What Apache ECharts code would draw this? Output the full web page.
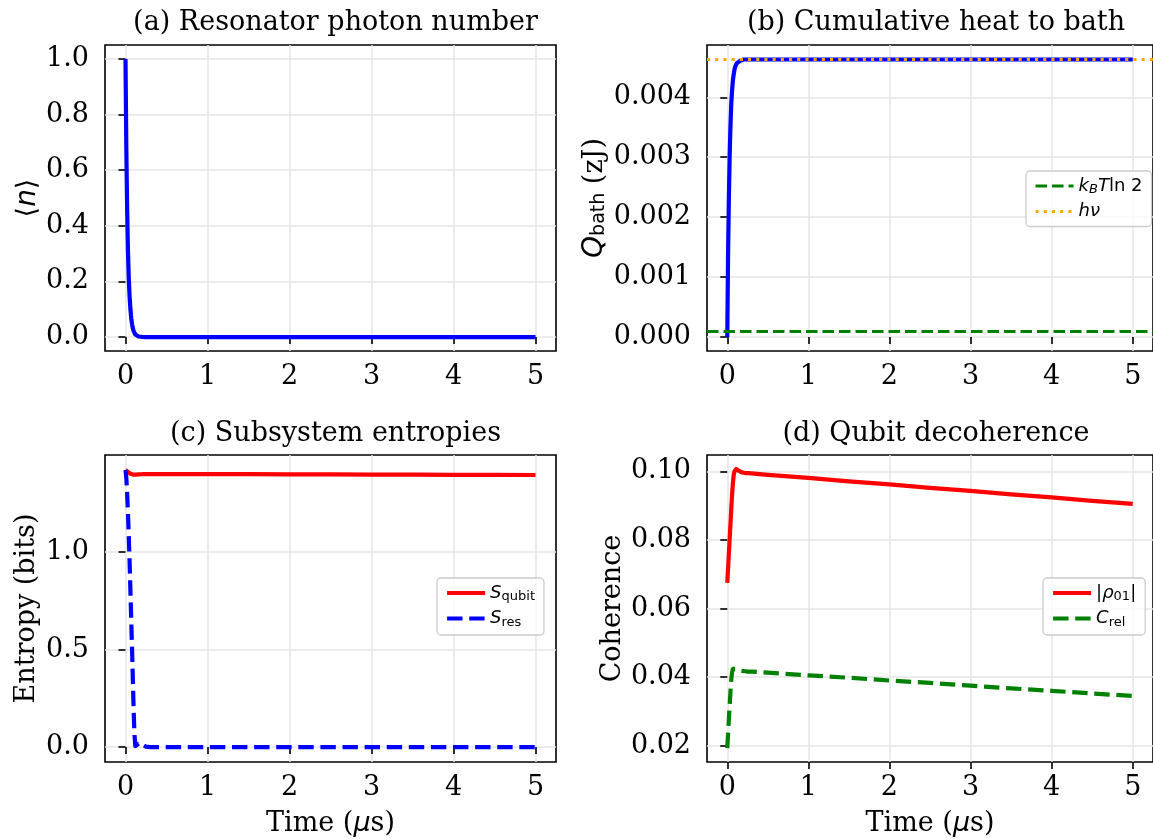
<!DOCTYPE html>
<html><head><meta charset="utf-8">
<script src="https://cdn.jsdelivr.net/npm/echarts@6/dist/echarts.min.js"></script>
<style>html,body{margin:0;padding:0;background:#fff}#c{width:1153px;height:839px}</style>
</head><body><div id="c"></div>
<script>
// ---- data ----
const times   = [0, 0.01, 0.02, 0.03, 0.04, 0.05, 0.06, 0.07, 0.08, 0.09, 0.10, 0.11, 0.12, 0.14, 0.16, 0.18, 0.20, 0.22, 0.25, 0.30, 0.5, 1, 1.5, 2, 2.5, 3, 3.5, 4, 4.5, 5];
const photonN = [1.0, 0.68, 0.46, 0.31, 0.21, 0.145, 0.10, 0.068, 0.046, 0.031, 0.021, 0.014, 0.0095, 0.0045, 0.002, 0.001, 0.0005, 0.0002, 0.0001, 0, 0, 0, 0, 0, 0, 0, 0, 0, 0, 0];
const qBath   = [0, 0.00140, 0.00235, 0.00305, 0.00355, 0.00391, 0.00413, 0.00429, 0.00439, 0.00447, 0.00452, 0.00455, 0.00457, 0.00460, 0.00461, 0.00462, 0.00463, 0.00463, 0.00463, 0.00463, 0.00463, 0.00463, 0.00463, 0.00463, 0.00463, 0.00463, 0.00463, 0.00463, 0.00463, 0.00463];
const kTln2   = 0.0000957;
const hNu     = 0.004638;
const sQubit  = [1.420, 1.418, 1.414, 1.409, 1.405, 1.402, 1.400, 1.398, 1.397, 1.396, 1.396, 1.396, 1.396, 1.397, 1.397, 1.398, 1.398, 1.398, 1.398, 1.398, 1.398, 1.398, 1.398, 1.397, 1.397, 1.396, 1.396, 1.395, 1.395, 1.394];
const sRes    = [1.420, 1.38, 1.30, 1.20, 1.08, 0.95, 0.80, 0.65, 0.50, 0.34, 0.18, 0.06, 0.005, 0.004, 0.018, 0.028, 0.022, 0.010, 0.002, 0, 0, 0, 0, 0, 0, 0, 0, 0, 0, 0];
const rho01   = [0.0675, 0.0718, 0.0762, 0.0806, 0.0850, 0.0893, 0.0935, 0.0968, 0.0990, 0.1001, 0.1006, 0.1007, 0.1006, 0.1002, 0.0999, 0.0997, 0.0996, 0.0995, 0.0995, 0.0994, 0.0990, 0.0981, 0.0971, 0.0962, 0.0952, 0.0943, 0.0933, 0.0924, 0.0914, 0.0905];
const cRel    = [0.0193, 0.0235, 0.0278, 0.0320, 0.0360, 0.0395, 0.0415, 0.0424, 0.0427, 0.0426, 0.0424, 0.0422, 0.0420, 0.0419, 0.0418, 0.0418, 0.0417, 0.0417, 0.0416, 0.0416, 0.0413, 0.0405, 0.0398, 0.0390, 0.0383, 0.0375, 0.0367, 0.0360, 0.0352, 0.0345];
const xTicks  = [0, 1, 2, 3, 4, 5];
const yTicksA = [0, 0.2, 0.4, 0.6, 0.8, 1.0];
const yTicksB = [0, 0.001, 0.002, 0.003, 0.004];
const yTicksC = [0, 0.5, 1.0];
const yTicksD = [0.02, 0.04, 0.06, 0.08, 0.10];
const titles  = ['(a) Resonator photon number', '(b) Cumulative heat to bath', '(c) Subsystem entropies', '(d) Qubit decoherence'];

// ---- chart ----
const SERIF = 'DejaVu Serif', SANS = 'DejaVu Sans';
const FS = 27;
const pairs = arr => times.map((t, i) => [t, arr[i]]);
const grids = [
  {left: 105, top: 45, width: 451, height: 306},
  {left: 707, top: 45, width: 448, height: 306},
  {left: 105, top: 455, width: 451, height: 307},
  {left: 707, top: 455, width: 448, height: 307}
].map(g => Object.assign(g, {show: true, borderColor: '#000', borderWidth: 1.6, backgroundColor: '#fff', containLabel: false}));

const axisCommon = {
  axisLine: {show: false},
  axisTick: {show: true, length: 7, lineStyle: {color: '#000', width: 1.6}},
  axisLabel: {color: '#000', fontFamily: SERIF, fontSize: FS},
  splitLine: {show: true, lineStyle: {color: '#e6e6e6', width: 1.5}}
};
function xAx(i, withName) {
  const a = JSON.parse(JSON.stringify(axisCommon));
  a.axisTick.customValues = xTicks;
  a.axisLabel.customValues = xTicks;
  a.axisLabel.margin = 12;
  return Object.assign(a, {
    type: 'value', gridIndex: i, min: -0.25, max: 5.25,
    name: withName ? 'Time ({i|μ}s)' : '', nameLocation: 'middle', nameGap: 48,
    nameTextStyle: {color: '#000', fontFamily: SERIF, fontSize: FS,
      rich: {i: {fontFamily: SANS, fontStyle: 'italic', fontSize: FS, color: '#000'}}}
  });
}
function yAx(i, min, max, ticks, dec, name, gap, baseFont) {
  const a = JSON.parse(JSON.stringify(axisCommon));
  a.axisTick.customValues = ticks;
  a.axisLabel.customValues = ticks;
  a.axisLabel.margin = 16;
  a.axisLabel.formatter = v => Number(v).toFixed(dec);
  return Object.assign(a, {
    type: 'value', gridIndex: i, min: min, max: max,
    name: name, nameLocation: 'middle', nameRotate: 90, nameGap: gap,
    nameTextStyle: {color: '#000', fontFamily: baseFont, fontSize: FS,
      rich: {
        i: {fontFamily: SANS, fontStyle: 'italic', fontSize: 28, color: '#000'},
        sub: {fontFamily: SANS, fontSize: 19, color: '#000', verticalAlign: 'bottom', lineHeight: 16},
        r: {fontFamily: SERIF, fontSize: FS, color: '#000'}
      }}
  });
}

const legendRich = {
  i: {fontFamily: SANS, fontStyle: 'italic', fontSize: 18, color: '#000', lineHeight: 21},
  sub: {fontFamily: SANS, fontSize: 13, color: '#000', verticalAlign: 'bottom', lineHeight: 14},
  subi: {fontFamily: SANS, fontStyle: 'italic', fontSize: 13, color: '#000', verticalAlign: 'bottom', lineHeight: 14},
  r: {fontFamily: SANS, fontSize: 18, color: '#000', lineHeight: 21}
};
const legendLabels = {
  kT: '{i|k}{subi|B}{i|T}{r|ln 2}',
  hv: '{i|hν}',
  Sq: '{i|S}{sub|qubit}',
  Sr: '{i|S}{sub|res}',
  rho: '{r||}{i|ρ}{sub|01}{r||}',
  C: '{i|C}{sub|rel}'
};
function legend(names, left, top, lw) {
  return {
    data: names, left: left, top: top, orient: 'vertical',
    itemWidth: 38, itemHeight: 14, itemGap: 6, padding: [6, 9, 6, 8],
    borderColor: '#cccccc', borderWidth: 1.3, borderRadius: 4,
    backgroundColor: 'rgba(255,255,255,0.8)',
    itemStyle: {opacity: 0},
    lineStyle: {width: lw},
    formatter: n => legendLabels[n],
    textStyle: {fontFamily: SANS, fontSize: 18, color: '#000', rich: legendRich},
    selectedMode: false
  };
}

function lineSeries(name, gi, arr, color, dash, z, extra) {
  return Object.assign({
    name: name, type: 'line', xAxisIndex: gi, yAxisIndex: gi, data: pairs(arr),
    symbol: 'none', showSymbol: false, smooth: false, z: z || 3,
    itemStyle: {color: color},
    lineStyle: {color: color, width: 4.2, type: dash || 'solid', cap: 'butt', join: 'round'}
  }, extra || {});
}
function legendOnly(name, gi, color, dash, width) {
  return {
    name: name, type: 'line', xAxisIndex: gi, yAxisIndex: gi, data: [],
    symbol: 'none', itemStyle: {color: color},
    lineStyle: {color: color, width: width, type: dash}
  };
}
const KT_STYLE = {color: '#008000', width: 3.1, type: [11.5, 5]};
const HV_STYLE = {color: '#ffa500', width: 3.1, type: [3.1, 5.1]};

const option = {
  animation: false,
  backgroundColor: '#fff',
  title: titles.map((t, i) => ({
    text: t, left: [330.5, 931, 330.5, 931][i], top: i < 2 ? 2 : 413, textAlign: 'center',
    textStyle: {fontFamily: SERIF, fontSize: FS, fontWeight: 'normal', color: '#000', lineHeight: 32}
  })),
  grid: grids,
  xAxis: [xAx(0, false), xAx(1, false), xAx(2, true), xAx(3, true)],
  yAxis: [
    yAx(0, -0.05, 1.05, yTicksA, 1, '⟨{i|n}⟩', 60, SANS),
    yAx(1, -0.000232, 0.004872, yTicksB, 3, '{i|Q}{sub|bath}{r| (zJ)}', 98, SERIF),
    yAx(2, -0.0765, 1.4965, yTicksC, 1, 'Entropy (bits)', 65, SERIF),
    yAx(3, 0.01523, 0.10477, yTicksD, 2, 'Coherence', 81, SERIF)
  ],
  legend: [
    legend(['kT', 'hv'], 1026, 171, 3.1),
    legend(['Sq', 'Sr'], 437, 578, 4.2),
    legend(['rho', 'C'], 1043, 578, 4.2)
  ],
  series: [
    lineSeries('n', 0, photonN, '#0000ff'),
    lineSeries('Q', 1, qBath, '#0000ff', 'solid', 3, {
      markLine: {silent: true, symbol: 'none', label: {show: false}, animation: false,
        precision: 10, emphasis: {disabled: true}, z: 6,
        data: [
          {yAxis: kTln2, lineStyle: KT_STYLE},
          {yAxis: hNu, lineStyle: HV_STYLE}
        ]}
    }),
    legendOnly('kT', 1, KT_STYLE.color, KT_STYLE.type, KT_STYLE.width),
    legendOnly('hv', 1, HV_STYLE.color, HV_STYLE.type, HV_STYLE.width),
    lineSeries('Sq', 2, sQubit, '#ff0000', 'solid', 3),
    lineSeries('Sr', 2, sRes, '#0000ff', [15.4, 6.7], 4),
    lineSeries('rho', 3, rho01, '#ff0000', 'solid', 3),
    lineSeries('C', 3, cRel, '#008000', [15.4, 6.7], 4)
  ]
};
const chart = echarts.init(document.getElementById('c'), null, {renderer: 'canvas'});
chart.setOption(option);
</script>
</body></html>
